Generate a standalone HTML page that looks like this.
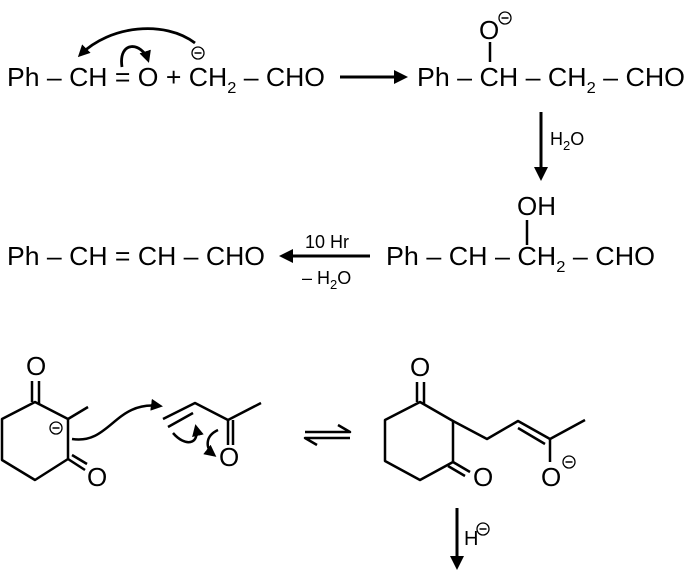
<!DOCTYPE html>
<html><head><style>html,body{margin:0;padding:0;background:#fff;}svg{display:block;}</style></head>
<body>
<svg width="692" height="579" viewBox="0 0 692 579" xmlns="http://www.w3.org/2000/svg" font-family="Liberation Sans, Arial, sans-serif" fill="#000">
<defs>
<marker id="ah" markerWidth="12" markerHeight="12" refX="9" refY="6" orient="auto" markerUnits="userSpaceOnUse"><path d="M0,0 L12,6 L0,12 z"/></marker>
<marker id="ahs" markerWidth="14" markerHeight="14" refX="11" refY="7" orient="auto" markerUnits="userSpaceOnUse"><path d="M0,0 L14,7 L0,14 z"/></marker>
<g id="neg"><circle cx="0" cy="0" r="6" fill="none" stroke="#000" stroke-width="1.3"/><line x1="-3.5" y1="0" x2="3.5" y2="0" stroke="#000" stroke-width="1.5"/></g>
</defs>
<g font-size="26">
<!-- Row 1 -->
<text x="7" y="86" textLength="318" lengthAdjust="spacingAndGlyphs">Ph – CH = O + CH<tspan font-size="16" dy="7">2</tspan><tspan dy="-7"> – CHO</tspan></text>
<text x="417" y="86" textLength="268" lengthAdjust="spacingAndGlyphs">Ph – CH – CH<tspan font-size="16" dy="7">2</tspan><tspan dy="-7"> – CHO</tspan></text>
<text x="479" y="39">O</text>
<line x1="490" y1="42" x2="490" y2="62" stroke="#000" stroke-width="2.5"/>
<!-- Row 2 -->
<text x="7" y="265" textLength="258" lengthAdjust="spacingAndGlyphs">Ph – CH = CH – CHO</text>
<text x="386" y="265" textLength="269" lengthAdjust="spacingAndGlyphs">Ph – CH – CH<tspan font-size="16" dy="7">2</tspan><tspan dy="-7"> – CHO</tspan></text>
<text x="517" y="215">OH</text>
<line x1="527" y1="220" x2="527" y2="245" stroke="#000" stroke-width="2.5"/>
<!-- bottom O labels -->
<text x="26" y="375">O</text>
<text x="87" y="486">O</text>
<text x="219" y="466">O</text>
<text x="410" y="376">O</text>
<text x="473" y="486">O</text>
<text x="541" y="486">O</text>
</g>
<use href="#neg" x="505" y="18"/>
<use href="#neg" x="198" y="53"/>
<use href="#neg" x="56" y="428"/>
<use href="#neg" x="569" y="462"/>
<use href="#neg" x="483" y="529"/>
<!-- Row1 arrows -->
<line x1="340" y1="77" x2="405" y2="77" stroke="#000" stroke-width="3" marker-end="url(#ahs)"/>
<path d="M195,43 C165,20 110,25 80,55" fill="none" stroke="#000" stroke-width="2.8" marker-end="url(#ah)"/>
<path d="M122,67 C118,40 142,42 148,60" fill="none" stroke="#000" stroke-width="2.8" marker-end="url(#ah)"/>
<line x1="541" y1="112" x2="541" y2="178" stroke="#000" stroke-width="3" marker-end="url(#ahs)"/>
<text x="550" y="145" font-size="18">H<tspan font-size="13" dy="5">2</tspan><tspan dy="-5">O</tspan></text>
<!-- Row2 arrow -->
<line x1="370" y1="256" x2="282" y2="256" stroke="#000" stroke-width="3" marker-end="url(#ahs)"/>
<text x="305" y="248" font-size="18">10 Hr</text>
<text x="302" y="284" font-size="18">– H<tspan font-size="13" dy="5">2</tspan><tspan dy="-5">O</tspan></text>
<!-- Bottom left ring -->
<g fill="none" stroke="#000" stroke-width="2.5" stroke-linejoin="round">
<path d="M35,402 L68,419 L68,459 L35,480 L2,460 L2,419 Z"/>
<line x1="32" y1="402" x2="32" y2="381"/>
<line x1="39" y1="404" x2="39" y2="381"/>
<line x1="68" y1="419" x2="88" y2="407"/>
<line x1="68" y1="459" x2="85" y2="470"/>
<line x1="72" y1="455" x2="87" y2="464"/>
<path d="M72,439 C110,445 115,400 160,406" marker-end="url(#ah)"/>
<path d="M163,419 L195,403 L228,420 L261,403"/>
<line x1="168" y1="427" x2="193" y2="413"/>
<line x1="228" y1="420" x2="228" y2="445"/>
<line x1="233" y1="420" x2="233" y2="445"/>
<path d="M173,433 C185,447 200,445 196,427" marker-end="url(#ah)"/>
<path d="M218,430 C205,436 205,448 214,455" marker-end="url(#ah)"/>
<!-- equilibrium -->
<path d="M305,432 L350,432 L338,425"/>
<path d="M350,438 L305,438 L317,445"/>
<!-- Right ring -->
<path d="M420,402 L453,421 L453,462 L420,480 L385,461 L385,420 Z"/>
<line x1="417" y1="402" x2="417" y2="382"/>
<line x1="424" y1="404" x2="424" y2="382"/>
<line x1="453" y1="462" x2="470" y2="472"/>
<line x1="448" y1="466" x2="465" y2="476"/>
<path d="M453,421 L487,439 L518,421 L550,439 L585,420"/>
<line x1="518" y1="428" x2="545" y2="444"/>
<line x1="550" y1="439" x2="550" y2="462"/>
<line x1="457" y1="508" x2="457" y2="567" stroke-width="3" marker-end="url(#ahs)"/>
</g>
<text x="464" y="545" font-size="20">H</text>
</svg>
</body></html>
